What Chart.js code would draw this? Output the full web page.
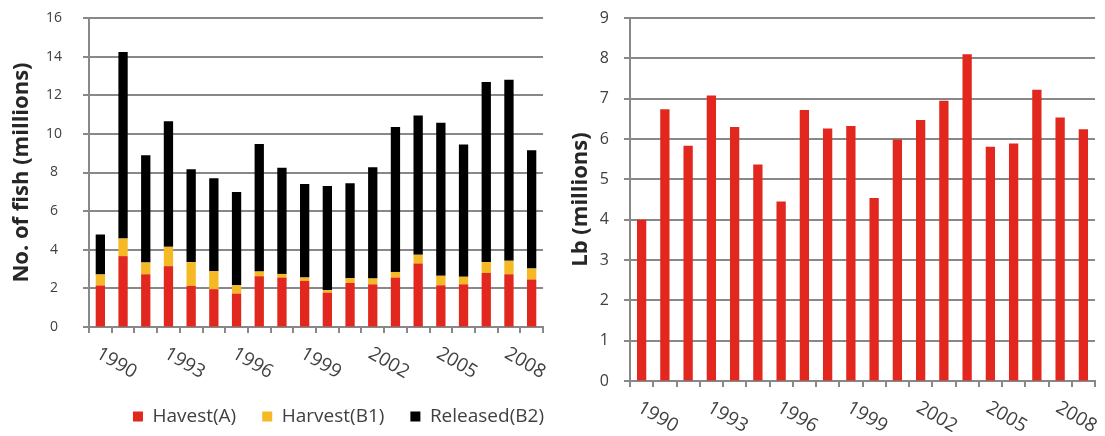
<!DOCTYPE html>
<html>
<head>
<meta charset="utf-8">
<script src="https://cdn.jsdelivr.net/npm/chart.js@4"></script>
<style>
  body { margin: 0; background: #fff; }
  .panel { position: absolute; top: 0; height: 436px; }
  #fishPanel { left: 0; width: 555px; }
  #poundsPanel { left: 560px; width: 545px; }
</style>
</head>
<body>
<div class="panel" id="fishPanel"><canvas id="fishChart"></canvas></div>
<div class="panel" id="poundsPanel"><canvas id="poundsChart"></canvas></div>
<script>
const years = ['1990', '1991', '1992', '1993', '1994', '1995', '1996', '1997', '1998', '1999',
               '2000', '2001', '2002', '2003', '2004', '2005', '2006', '2007', '2008', '2009'];
const shownYears = ['1990', '1993', '1996', '1999', '2002', '2005', '2008'];

// millions of fish
const harvestA   = [2.15, 3.67, 2.73, 3.15, 2.13, 1.96, 1.73, 2.63, 2.56, 2.39, 1.78, 2.28, 2.21, 2.56, 3.29, 2.16, 2.21, 2.80, 2.73, 2.46];
const harvestB1  = [0.57, 0.91, 0.61, 1.00, 1.23, 0.93, 0.43, 0.24, 0.19, 0.17, 0.12, 0.25, 0.30, 0.29, 0.45, 0.49, 0.39, 0.56, 0.70, 0.57];
const releasedB2 = [2.07, 9.66, 5.55, 6.51, 4.81, 4.81, 4.83, 6.61, 5.50, 4.84, 5.40, 4.91, 5.76, 7.51, 7.21, 7.92, 6.85, 9.32, 9.37, 6.12];

// millions of lb
const pounds = [4.00, 6.74, 5.83, 7.08, 6.30, 5.37, 4.45, 6.72, 6.26, 6.32, 4.54, 5.99, 6.47, 6.95, 8.10, 5.81, 5.89, 7.22, 6.53, 6.24];

const RED = '#e2281e';
const YELLOW = '#f4b923';
const GRID = '#888888';
const TEXT = '#404040';
const FONT = '"Open Sans", "DejaVu Sans", sans-serif';

// year labels slant downwards to the right, which the built-in ticks can't do
const slantedYears = {
    id: 'slantedYears',
    afterDraw(chart) {
        const xs = chart.scales.x;
        const ctx = chart.ctx;
        ctx.save();
        ctx.font = '19px ' + FONT;
        ctx.fillStyle = TEXT;
        ctx.textAlign = 'left';
        ctx.textBaseline = 'top';
        years.forEach((yr, i) => {
            if (!shownYears.includes(yr)) return;
            ctx.save();
            ctx.translate(xs.getPixelForValue(i) + 2, xs.top + 17);
            ctx.rotate(Math.PI / 6);
            ctx.fillText(yr, 0, 0);
            ctx.restore();
        });
        ctx.restore();
    }
};

// horizontal gridlines, plus the short outside tick marks on both axes
const axisMarks = {
    id: 'axisMarks',
    beforeDatasetsDraw(chart) {
        const { ctx, chartArea: area, scales: { x, y } } = chart;
        ctx.save();
        ctx.strokeStyle = GRID;
        ctx.lineWidth = 2;
        ctx.beginPath();
        y.ticks.forEach(t => {
            const py = Math.round(y.getPixelForValue(t.value));
            ctx.moveTo(area.left - 6, py);
            ctx.lineTo(area.right, py);
        });
        // category boundaries sit half a step either side of each bar
        for (let i = 0; i <= years.length; i++) {
            const px = Math.round(x.getPixelForValue(i - 0.5));
            ctx.moveTo(px, area.bottom);
            ctx.lineTo(px, area.bottom + 6);
        }
        ctx.stroke();
        ctx.restore();
    }
};

// push the legend row to the right so it lines up under the plot
const shiftLegend = {
    id: 'shiftLegend',
    afterLayout(chart, args, opts) {
        if (!chart.legend) return;
        chart.legend.left += opts.dx;
        chart.legend.right += opts.dx;
    }
};

function makeScales(max, step, title, titlePad, tickPad, tickSize, yWidth, xHeight) {
    return {
        x: {
            stacked: true,
            offset: true,
            grid: {
                offset: true,
                drawOnChartArea: false,
                tickLength: 6,
                color: 'rgba(0,0,0,0)'
            },
            border: { display: true, color: GRID, width: 2 },
            ticks: { display: false, autoSkip: false },
            afterFit(scale) { scale.height = xHeight; }
        },
        y: {
            stacked: true,
            min: 0,
            max: max,
            grid: {
                drawOnChartArea: false,
                tickLength: 6,
                color: 'rgba(0,0,0,0)'
            },
            border: { display: true, color: GRID, width: 2 },
            ticks: {
                stepSize: step,
                padding: tickPad,
                crossAlign: 'center',
                color: TEXT,
                font: { family: FONT, size: tickSize }
            },
            title: {
                display: true,
                text: title,
                color: '#262626',
                padding: { top: titlePad, bottom: 0 },
                font: { family: FONT, size: 22, weight: 'bold' }
            },
            afterFit(scale) {
                scale.width = yWidth;
                // tick padding shouldn't push the plot top down
                scale.paddingTop = 0;
                scale.paddingBottom = 0;
            }
        }
    };
}

new Chart(document.getElementById('fishChart'), {
    type: 'bar',
    data: {
        labels: years,
        datasets: [
            { label: 'Havest(A)', data: harvestA, backgroundColor: RED },
            { label: 'Harvest(B1)', data: harvestB1, backgroundColor: YELLOW },
            { label: 'Released(B2)', data: releasedB2, backgroundColor: '#000000' }
        ]
    },
    options: {
        responsive: true,
        maintainAspectRatio: false,
        animation: false,
        datasets: { bar: { barPercentage: 0.41, categoryPercentage: 1 } },
        layout: { padding: { top: 18, right: 12, bottom: 0, left: 0 } },
        scales: makeScales(16, 2, 'No. of fish (millions)', 9, 21, 14, 89, 54),
        plugins: {
            legend: {
                position: 'bottom',
                align: 'end',
                labels: {
                    boxWidth: 10,
                    boxHeight: 10,
                    padding: 26,
                    color: TEXT,
                    font: { family: FONT, size: 19 }
                }
            },
            shiftLegend: { dx: 27 },
            tooltip: { enabled: false }
        }
    },
    plugins: [axisMarks, slantedYears, shiftLegend]
});

new Chart(document.getElementById('poundsChart'), {
    type: 'bar',
    data: {
        labels: years,
        datasets: [
            { label: 'Lb', data: pounds, backgroundColor: RED }
        ]
    },
    options: {
        responsive: true,
        maintainAspectRatio: false,
        animation: false,
        datasets: { bar: { barPercentage: 0.4, categoryPercentage: 1 } },
        layout: { padding: { top: 18, right: 10, bottom: 0, left: 0 } },
        scales: makeScales(9, 1, 'Lb (millions)', 8, 15, 16, 70, 55),
        plugins: {
            legend: { display: false },
            tooltip: { enabled: false }
        }
    },
    plugins: [axisMarks, slantedYears]
});
</script>
</body>
</html>
